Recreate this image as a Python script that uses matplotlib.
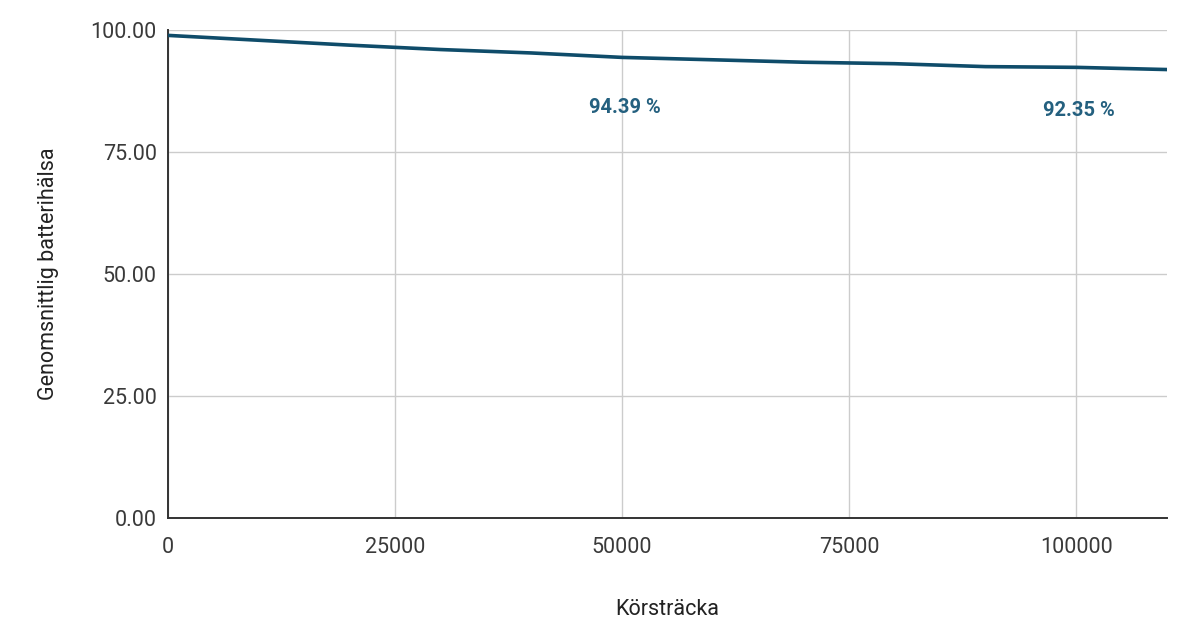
import matplotlib
matplotlib.use("Agg")
import matplotlib.pyplot as plt

# distance driven (km) and average battery health (%)
korstracka = [0, 10000, 20000, 30000, 40000, 50000, 60000, 70000, 80000, 90000, 100000, 110000]
halsa = [98.9, 97.9, 96.9, 96.0, 95.3, 94.39, 93.9, 93.4, 93.1, 92.5, 92.35, 91.9]
etiketter = {50000: "94.39 %", 100000: "92.35 %"}

xticks = [0, 25000, 50000, 75000, 100000]
yticks = [0, 25, 50, 75, 100]

plt.rcParams['font.family'] = ['Roboto', 'DejaVu Sans']

fig = plt.figure(figsize=(12, 6.36), dpi=100)
ax = fig.add_axes([0.14, 0.1855, 0.8325, 0.7673])

ax.plot(korstracka, halsa, color='#0f4c6a', lw=2.6, solid_capstyle='round', zorder=3)

# the labels sit a little lower than a fixed offset would put them
offs = {50000: -29, 100000: -24}
for x, txt in etiketter.items():
    y = halsa[korstracka.index(x)]
    ax.annotate(txt, (x, y), xytext=(2, offs[x]), textcoords='offset points',
                ha='center', va='top', fontsize=14.5, fontweight='bold', color='#24607f')

ax.set_xlim(0, 110000)
ax.set_ylim(0, 100)
ax.set_xticks(xticks)
ax.set_yticks(yticks)
ax.set_xticklabels([str(t) for t in xticks])
ax.set_yticklabels([f"{t:.2f}" for t in yticks])
ax.grid(True, color='#cccccc', lw=1)
ax.set_axisbelow(True)
for s in ['top', 'right']:
    ax.spines[s].set_visible(False)
for s in ['left', 'bottom']:
    ax.spines[s].set_color('#333333')
    ax.spines[s].set_linewidth(1.4)
ax.tick_params(length=0, labelsize=15.5, colors='#3a3a3a', pad=8)
ax.tick_params(axis='x', pad=14)

ax.set_xlabel("Körsträcka", fontsize=15.5, color='#222222', labelpad=29)
ax.set_ylabel("Genomsnittlig batterihälsa", fontsize=15.5, color='#222222', labelpad=23)

fig.savefig("out.png", dpi=100, facecolor='white')
